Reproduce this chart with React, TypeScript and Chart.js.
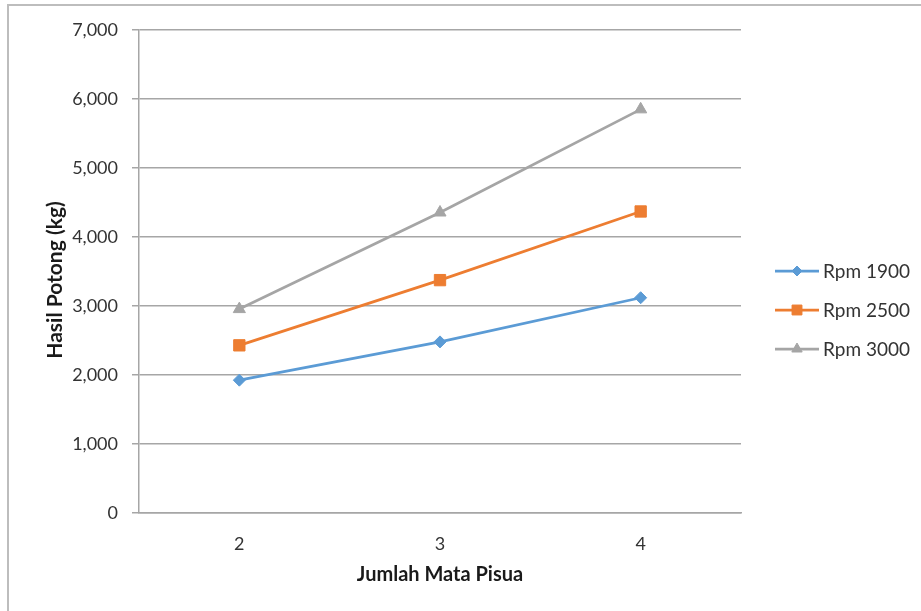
import React, { useEffect, useRef } from "react";
import { Chart, registerables } from "chart.js";

Chart.register(...registerables);

const categories = ["2", "3", "4"];
const rpm1900 = [1925, 2480, 3120];
const rpm2500 = [2430, 3375, 4370];
const rpm3000 = [2955, 4355, 5850];
const seriesLabels = ["Rpm 1900", "Rpm 2500", "Rpm 3000"];
const seriesColors = ["#5B9BD5", "#ED7D31", "#A5A5A5"];
const seriesMarkers = ["rectRot", "rect", "triangle"];
const markerRadius = [6, 8, 7];
const yTitle = "Hasil Potong (kg)";
const xTitle = "Jumlah Mata Pisua";
const yMin = 0;
const yMax = 7000;
const yStep = 1000;

const FONT = "Lato, 'Open Sans', 'DejaVu Sans', sans-serif";
const TEXT = "#333333";

function drawMarker(ctx: CanvasRenderingContext2D, style: string, x: number, y: number, r: number, color: string) {
  ctx.save();
  ctx.fillStyle = color;
  ctx.strokeStyle = color;
  ctx.lineWidth = 1;
  ctx.beginPath();
  if (style === "rectRot") {
    ctx.moveTo(x - r, y);
    ctx.lineTo(x, y - r);
    ctx.lineTo(x + r, y);
    ctx.lineTo(x, y + r);
  } else if (style === "rect") {
    const s = Math.SQRT1_2 * r;
    ctx.rect(x - s, y - s, 2 * s, 2 * s);
  } else {
    const w = (r * Math.sqrt(3)) / 2;
    ctx.moveTo(x, y - r);
    ctx.lineTo(x + w, y + r / 2);
    ctx.lineTo(x - w, y + r / 2);
  }
  ctx.closePath();
  ctx.fill();
  ctx.stroke();
  ctx.restore();
}

const legendPlugin = {
  id: "sideLegend",
  afterDraw(chart: any) {
    const ctx = chart.ctx as CanvasRenderingContext2D;
    const left = chart.chartArea.right + 34;
    const centerY = 310;
    const gap = 39;
    chart.data.datasets.forEach((ds: any, i: number) => {
      const y = centerY + (i - 1) * gap;
      ctx.save();
      ctx.strokeStyle = ds.borderColor;
      ctx.lineWidth = 2.75;
      ctx.beginPath();
      ctx.moveTo(left, y);
      ctx.lineTo(left + 44, y);
      ctx.stroke();
      ctx.restore();
      drawMarker(ctx, ds.pointStyle, left + 22, y, ds.pointRadius - 1, ds.borderColor);
      ctx.save();
      ctx.fillStyle = TEXT;
      ctx.font = `19px ${FONT}`;
      ctx.textBaseline = "middle";
      ctx.textAlign = "left";
      ctx.fillText(ds.label, left + 48, y + 1);
      ctx.restore();
    });
  },
};

const yTitlePlugin = {
  id: "yAxisTitle",
  afterDraw(chart: any) {
    const ctx = chart.ctx as CanvasRenderingContext2D;
    ctx.save();
    ctx.translate(55, 280);
    ctx.rotate(-Math.PI / 2);
    ctx.fillStyle = "#1a1a1a";
    ctx.font = `bold 21px ${FONT}`;
    ctx.textAlign = "center";
    ctx.textBaseline = "middle";
    ctx.fillText(yTitle, 0, 0);
    ctx.restore();
  },
};

export default function App() {
  const canvasRef = useRef<HTMLCanvasElement | null>(null);

  useEffect(() => {
    const canvas = canvasRef.current;
    if (!canvas) return;
    const series = [rpm1900, rpm2500, rpm3000];
    const chart = new Chart(canvas, {
      type: "line",
      data: {
        labels: categories,
        datasets: series.map((values, i) => ({
          label: seriesLabels[i],
          data: values,
          borderColor: seriesColors[i],
          backgroundColor: seriesColors[i],
          pointBackgroundColor: seriesColors[i],
          pointBorderColor: seriesColors[i],
          borderWidth: 2.75,
          pointStyle: seriesMarkers[i] as any,
          pointRadius: markerRadius[i],
          pointBorderWidth: 1,
          tension: 0,
          fill: false,
        })),
      },
      options: {
        responsive: false,
        animation: false,
        devicePixelRatio: 1,
        layout: { padding: { top: 30, right: 180, bottom: 0, left: 0 } },
        plugins: {
          legend: { display: false },
          tooltip: { enabled: false },
        },
        scales: {
          x: {
            type: "category",
            offset: true,
            grid: { display: false, drawTicks: false },
            border: { display: true, color: "#A6A6A6", width: 1.5 },
            ticks: {
              color: TEXT,
              font: { family: FONT, size: 18 },
              padding: 20,
            },
            title: {
              display: true,
              text: xTitle,
              color: "#1a1a1a",
              font: { family: FONT, size: 20, weight: "bold" },
              padding: { top: 0, bottom: 24 },
            },
            afterFit(scale: any) {
              scale.height = 98;
            },
          },
          y: {
            min: yMin,
            max: yMax,
            ticks: {
              stepSize: yStep,
              color: TEXT,
              font: { family: FONT, size: 18 },
              padding: 14,
              callback: (v: any) => Number(v).toLocaleString("en-US"),
            },
            grid: {
              color: "#A6A6A6",
              lineWidth: 1.5,
              drawTicks: true,
              tickLength: 7,
              tickColor: "#A6A6A6",
            },
            border: { display: true, color: "#A6A6A6", width: 1.5 },
            title: { display: false },
            afterFit(scale: any) {
              scale.width = 139;
            },
          },
        },
      },
      plugins: [legendPlugin, yTitlePlugin],
    });
    return () => chart.destroy();
  }, []);

  return (
    <div style={{ position: "fixed", left: 0, top: 0, width: 921, height: 611, background: "#fff", overflow: "hidden" }}>
      <div
        style={{
          position: "absolute",
          left: 7,
          top: 4,
          width: 930,
          height: 620,
          borderTop: "2px solid #BDBDBD",
          borderLeft: "2px solid #BDBDBD",
          boxSizing: "border-box",
        }}
      />
      <canvas ref={canvasRef} width={921} height={611} style={{ position: "absolute", left: 0, top: 0 }} />
    </div>
  );
}
